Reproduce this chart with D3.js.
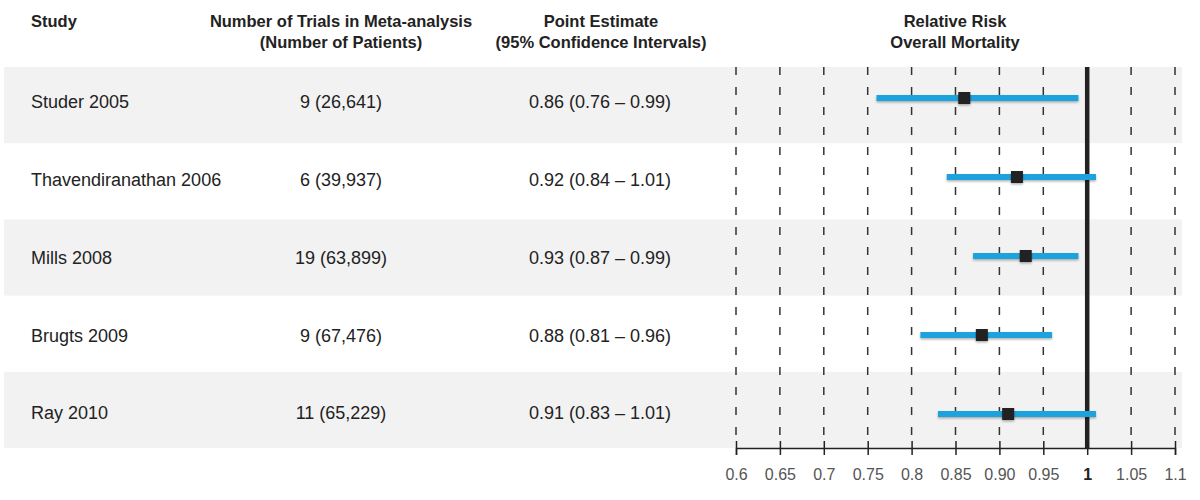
<!DOCTYPE html>
<html>
<head>
<meta charset="utf-8">
<script src="https://cdn.jsdelivr.net/npm/d3@7"></script>
<style>
  body { margin: 0; background: #fff; }
  text { font-family: "Liberation Sans", Arial, sans-serif; fill: #222; }
</style>
</head>
<body>
<div id="chart"></div>
<script>
// data
var studies = ["Studer 2005", "Thavendiranathan 2006", "Mills 2008", "Brugts 2009", "Ray 2010"];
var trials = ["9 (26,641)", "6 (39,937)", "19 (63,899)", "9 (67,476)", "11 (65,229)"];
var estimate = [0.86, 0.92, 0.93, 0.88, 0.91];
var lower = [0.76, 0.84, 0.87, 0.81, 0.83];
var upper = [0.99, 1.01, 0.99, 0.96, 1.01];
var tickValues = [0.6, 0.65, 0.7, 0.75, 0.8, 0.85, 0.9, 0.95, 1, 1.05, 1.1];
var tickLabels = ["0.6", "0.65", "0.7", "0.75", "0.8", "0.85", "0.90", "0.95", "1", "1.05", "1.1"];

var width = 1200, height = 500;
var top0 = 67, bottom0 = 448;

var svg = d3.select("#chart").append("svg")
  .attr("width", width)
  .attr("height", height);

// soft shadow under the interval bars and squares
var f = svg.append("defs").append("filter").attr("id", "shadow")
  .attr("x", "-10%").attr("y", "-100%").attr("width", "120%").attr("height", "300%");
f.append("feDropShadow").attr("dx", 0).attr("dy", 1.5).attr("stdDeviation", 1)
  .attr("flood-color", "#000").attr("flood-opacity", 0.3);

// scales
var x = d3.scaleLinear().domain([0.6, 1.1]).range([736, 1175]);
var band = d3.scaleBand().domain(d3.range(studies.length)).range([top0, bottom0]);
var textY = d3.scalePoint().domain(d3.range(studies.length)).range([102, 413]);
var markY = d3.scalePoint().domain(d3.range(studies.length)).range([98, 414]);

// shaded rows
svg.selectAll(".band")
  .data(d3.range(studies.length).filter(function (i) { return i % 2 == 0; }))
  .enter().append("rect")
  .attr("class", "band")
  .attr("x", 4)
  .attr("width", 1178)
  .attr("y", function (i) { return band(i); })
  .attr("height", band.bandwidth())
  .style("fill", "#f2f2f2");

// headers
var headers = [
  { x: 31, anchor: "start", lines: ["Study"] },
  { x: 341, anchor: "middle", lines: ["Number of Trials in Meta-analysis", "(Number of Patients)"] },
  { x: 601, anchor: "middle", lines: ["Point Estimate", "(95% Confidence Intervals)"] },
  { x: 955, anchor: "middle", lines: ["Relative Risk", "Overall Mortality"] }
];
headers.forEach(function (h) {
  h.lines.forEach(function (l, j) {
    svg.append("text")
      .attr("x", h.x)
      .attr("y", 21 + j * 21)
      .attr("dy", "0.35em")
      .attr("text-anchor", h.anchor)
      .style("font-size", "16.5px")
      .style("font-weight", "bold")
      .text(l);
  });
});

// row text
svg.selectAll(".study").data(studies).enter().append("text")
  .attr("x", 31)
  .attr("y", function (d, i) { return textY(i); })
  .attr("dy", "0.35em")
  .style("font-size", "18px")
  .text(function (d) { return d; });

svg.selectAll(".trials").data(trials).enter().append("text")
  .attr("x", 341)
  .attr("y", function (d, i) { return textY(i); })
  .attr("dy", "0.35em")
  .attr("text-anchor", "middle")
  .style("font-size", "18px")
  .text(function (d) { return d; });

svg.selectAll(".est").data(estimate).enter().append("text")
  .attr("x", 600)
  .attr("y", function (d, i) { return textY(i); })
  .attr("dy", "0.35em")
  .attr("text-anchor", "middle")
  .style("font-size", "18px")
  .text(function (d, i) {
    return d.toFixed(2) + " (" + lower[i].toFixed(2) + " \u2013 " + upper[i].toFixed(2) + ")";
  });

// dashed grid lines
svg.selectAll(".grid")
  .data(tickValues.filter(function (t) { return t != 1; }))
  .enter().append("line")
  .attr("class", "grid")
  .attr("x1", function (d) { return x(d); })
  .attr("x2", function (d) { return x(d); })
  .attr("y1", top0)
  .attr("y2", 441)
  .style("stroke", "#333")
  .style("stroke-width", 1.5)
  .style("stroke-dasharray", "8,12");

// reference line
svg.append("line")
  .attr("x1", x(1)).attr("x2", x(1))
  .attr("y1", top0).attr("y2", bottom0)
  .style("stroke", "#222")
  .style("stroke-width", 4.5);

// confidence intervals
svg.selectAll(".ci").data(estimate).enter().append("rect")
  .attr("class", "ci")
  .attr("x", function (d, i) { return x(lower[i]); })
  .attr("width", function (d, i) { return x(upper[i]) - x(lower[i]); })
  .attr("y", function (d, i) { return markY(i) - 3; })
  .attr("height", 6)
  .style("fill", "#1ba3de")
  .attr("filter", "url(#shadow)");

// point estimates
svg.selectAll(".dot").data(estimate).enter().append("rect")
  .attr("class", "dot")
  .attr("x", function (d) { return x(d) - 6; })
  .attr("y", function (d, i) { return markY(i) - 6; })
  .attr("width", 12)
  .attr("height", 12)
  .style("fill", "#222")
  .attr("filter", "url(#shadow)");

// axis
var axis = svg.append("g")
  .attr("class", "x axis")
  .attr("transform", "translate(0," + bottom0 + ")")
  .call(d3.axisBottom(x)
    .tickValues(tickValues)
    .tickSize(7)
    .tickPadding(14)
    .tickFormat(function (d, i) { return tickLabels[i]; }));

axis.select(".domain").attr("stroke", "#222").attr("stroke-width", 1.5);
axis.selectAll(".tick line").attr("y1", -7).attr("stroke", "#222").attr("stroke-width", 1.5);
axis.selectAll(".tick text")
  .style("font-size", "16px")
  .style("font-family", "Liberation Sans, Arial, sans-serif")
  .style("fill", function (d) { return d == 1 ? "#222" : "#555"; })
  .style("font-weight", function (d) { return d == 1 ? "bold" : "normal"; });
</script>
</body>
</html>
